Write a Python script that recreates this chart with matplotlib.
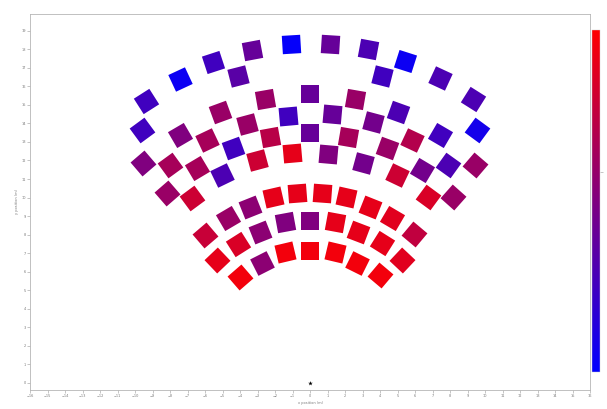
import numpy as np
import matplotlib
matplotlib.use("Agg")
import matplotlib.pyplot as plt
from matplotlib.colors import LinearSegmentedColormap, Normalize
from matplotlib.cm import ScalarMappable
from matplotlib.markers import MarkerStyle
from matplotlib.transforms import Affine2D
from matplotlib.ticker import MultipleLocator

# Seat positions (m) and score for each seat, listed row by row from the back
seat_x = [
    # back row
    -9.37, -7.43, -5.54, -3.31, -1.09, 1.14, 3.31, 5.43, 7.43, 9.31,
    # row 2
    -9.60, -4.11, 4.11, 9.54,
    # row 3
    -9.54, -7.43, -5.14, -2.57, 0.00, 2.57, 5.03, 7.43, 9.43,
    # row 4
    -8.00, -5.89, -3.60, -1.26, 1.26, 3.60, 5.83, 7.89,
    # row 5
    -8.17, -6.46, -4.40, -2.29, 0.00, 2.17, 4.40, 6.40, 8.17,
    # row 6
    -6.74, -5.03, -3.03, -1.03, 1.03, 3.03, 4.97, 6.74,
    # row 7
    -6.00, -4.69, -3.43, -2.11, -0.74, 0.69, 2.06, 3.43, 4.69, 5.94,
    # row 8
    -5.31, -4.11, -2.86, -1.43, 0.00, 1.43, 2.74, 4.11, 5.26,
    # front row
    -4.00, -2.74, -1.43, 0.00, 1.43, 2.69, 4.00,
]
seat_y = [
    15.23, 16.42, 17.33, 17.98, 18.30, 18.30, 18.03, 17.38, 16.47, 15.29,
    13.67, 16.58, 16.58, 13.62,
    11.84, 13.35, 14.59, 15.34, 15.61, 15.34, 14.59, 13.35, 11.73,
    11.73, 13.08, 13.99, 14.42, 14.53, 14.05, 13.08, 11.73,
    10.23, 11.57, 12.65, 13.24, 13.46, 13.24, 12.65, 11.46, 10.01,
    9.96, 11.19, 12.00, 12.38, 12.33, 11.89, 11.19, 10.01,
    7.97, 8.88, 9.47, 10.01, 10.23, 10.23, 10.01, 9.47, 8.88, 8.02,
    6.62, 7.48, 8.13, 8.67, 8.72, 8.67, 8.13, 7.53, 6.62,
    5.71, 6.46, 7.05, 7.10, 7.05, 6.46, 5.81,
]
seat_score = [
    0.25, 0.05, 0.25, 0.40, 0.02, 0.40, 0.30, 0.05, 0.30, 0.30,
    0.25, 0.35, 0.25, 0.08,
    0.50, 0.50, 0.60, 0.60, 0.40, 0.60, 0.30, 0.25, 0.60,
    0.65, 0.65, 0.60, 0.25, 0.40, 0.45, 0.70, 0.30,
    0.60, 0.65, 0.25, 0.72, 0.40, 0.65, 0.60, 0.45, 0.60,
    0.80, 0.30, 0.80, 0.90, 0.50, 0.45, 0.80, 0.85,
    0.78, 0.60, 0.55, 0.90, 0.90, 0.90, 0.90, 0.90, 0.88, 0.75,
    0.90, 0.85, 0.55, 0.50, 0.50, 0.90, 0.90, 0.90, 0.88,
    0.95, 0.55, 0.95, 0.95, 0.95, 0.95, 0.95,
]

stage_x = [0.0]
stage_y = [0.0]
fan_centre = (0.0, 1.35)  # seats face this point

cmap = LinearSegmentedColormap.from_list("blue_red", ["#0000ff", "#ff0000"])
norm = Normalize(vmin=0.0, vmax=1.0)

fig = plt.figure(figsize=(6.07, 4.09), dpi=100)
ax = fig.add_axes([30 / 607, 19 / 409, 560 / 607, 376 / 409])
ax.set_xlim(-16, 16)
ax.set_ylim(-0.38, 19.9)

# rotate every square so it faces the stage
pts = ax.transData.transform(np.column_stack([seat_x, seat_y]))
cen = ax.transData.transform(fan_centre)
angles = np.degrees(np.arctan2(-(pts[:, 0] - cen[0]), pts[:, 1] - cen[1]))

for x, y, v, a in zip(seat_x, seat_y, seat_score, angles):
    m = MarkerStyle("s", transform=Affine2D().rotate_deg(a))
    ax.scatter([x], [y], c=[v], cmap=cmap, norm=norm, marker=m, s=175, linewidths=0)

ax.scatter(stage_x, stage_y, c="black", marker="*", s=12, linewidths=0)

ax.xaxis.set_major_locator(MultipleLocator(1))
ax.yaxis.set_major_locator(MultipleLocator(1))
ax.tick_params(labelsize=2.5, length=2, width=0.4, color="#999999", labelcolor="#777777", pad=1)
for sp in ax.spines.values():
    sp.set_linewidth(0.6)
    sp.set_color("#b5b5b5")
ax.set_xlabel("x position (m)", fontsize=2.5, color="#777777", labelpad=2)
ax.set_ylabel("y position (m)", fontsize=2.5, color="#777777", labelpad=2)

cax = fig.add_axes([592 / 607, 37 / 409, 8 / 607, 342 / 409])
cb = fig.colorbar(ScalarMappable(norm=norm, cmap=cmap), cax=cax)
cb.set_ticks([0.585])
cb.ax.tick_params(labelright=False, length=2, width=0.4, color="#999999")
cb.outline.set_linewidth(0.3)
cb.outline.set_edgecolor("#cccccc")

fig.savefig("out.png", dpi=100)
